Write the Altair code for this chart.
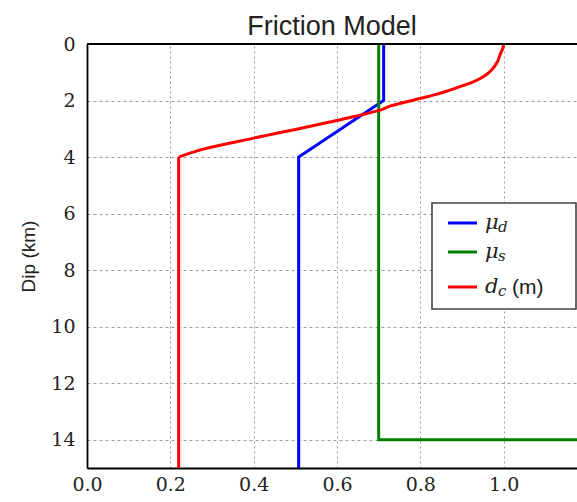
import altair as alt
import pandas as pd

# ---- data ----
mu_d_x = [0.712, 0.712, 0.508, 0.508]
mu_d_y = [0.0, 2.0, 4.0, 15.0]

mu_s_x = [0.70, 0.70, 1.30]
mu_s_y = [0.0, 14.0, 14.0]

dc_x = [1.0, 0.998, 0.991, 0.985, 0.971, 0.951, 0.927, 0.895, 0.863, 0.831, 0.799,
        0.727, 0.703, 0.583, 0.40, 0.279, 0.22, 0.22]
dc_y = [0.0, 0.15, 0.39, 0.63, 0.92, 1.16, 1.34, 1.51, 1.67, 1.81, 1.93,
        2.20, 2.34, 2.76, 3.33, 3.72, 4.0, 15.0]

series_names = ["mu_d", "mu_s", "d_c"]
series_colors = ["#0000ff", "#008000", "#ff0000"]

x_ticks = [0.0, 0.2, 0.4, 0.6, 0.8, 1.0]
y_ticks = [0, 2, 4, 6, 8, 10, 12, 14]

rows = []
for name, xs, ys in zip(series_names, [mu_d_x, mu_s_x, dc_x], [mu_d_y, mu_s_y, dc_y]):
    n = len(xs)
    for i, (xv, yv) in enumerate(zip(xs, ys)):
        part = "curve" if (name == "d_c" and i < n - 1) else "straight"
        if name == "d_c" and i == n - 2:
            rows.append({"series": name, "part": "straight", "order": i, "x": xv, "y": yv})
        rows.append({"series": name, "part": part, "order": i, "x": xv, "y": yv})
df = pd.DataFrame(rows)

W, H = 490, 424
SERIF = "DejaVu Serif"
SANS = "Liberation Sans"

x_enc = alt.X("x:Q", scale=alt.Scale(domain=[0, 1.176], nice=False, zero=False),
              axis=alt.Axis(values=x_ticks, format=".1f", title=None, labelFlush=False,
                            gridDash=[2, 3], labelPadding=7))
y_enc = alt.Y("y:Q", scale=alt.Scale(domain=[0, 15], reverse=True, nice=False, zero=False),
              axis=alt.Axis(values=y_ticks, title="Dip (km)", gridDash=[3, 3], labelFlush=False,
                            labelPadding=12, titlePadding=12))
color_enc = alt.Color("series:N", scale=alt.Scale(domain=series_names, range=series_colors),
                      legend=None)

base = alt.Chart(df).encode(x=x_enc, y=y_enc, color=color_enc, detail="series:N",
                            order="order:Q")
straight = base.mark_line(strokeWidth=3, clip=True).transform_filter(
    alt.datum.part == "straight")
curve = base.mark_line(strokeWidth=3, clip=True, interpolate="catmull-rom").transform_filter(
    alt.datum.part == "curve")

one = pd.DataFrame({"a": [0]})

top_border = alt.Chart(one).mark_rule(color="black", strokeWidth=1.8).encode(
    x=alt.value(0), x2=alt.value(W), y=alt.value(0)
)

# ---- custom legend (mathtext style labels) ----
box = alt.Chart(one).mark_rect(fill="white", stroke="#444", strokeWidth=1.6).encode(
    x=alt.value(345), x2=alt.value(489), y=alt.value(159), y2=alt.value(265)
)

legend_main = ["μ", "μ", "d"]
legend_sub = ["d", "s", "c"]
legend_suffix = ["", "", "(m)"]
legend_y = [179, 208, 243]

legend_layers = [box]
for col, main, sub, suf, ly in zip(series_colors, legend_main, legend_sub, legend_suffix, legend_y):
    legend_layers.append(
        alt.Chart(one).mark_rule(color=col, strokeWidth=3).encode(
            x=alt.value(361), x2=alt.value(390), y=alt.value(ly))
    )
    legend_layers.append(
        alt.Chart(one).mark_text(align="left", baseline="alphabetic", font=SERIF,
                                 fontStyle="italic", fontSize=21, color="#222").encode(
            x=alt.value(398), y=alt.value(ly + 6), text=alt.value(main))
    )
    legend_layers.append(
        alt.Chart(one).mark_text(align="left", baseline="alphabetic", font=SERIF,
                                 fontStyle="italic", fontSize=15, color="#222").encode(
            x=alt.value(411), y=alt.value(ly + 9), text=alt.value(sub))
    )
    if suf:
        legend_layers.append(
            alt.Chart(one).mark_text(align="left", baseline="alphabetic", font=SANS,
                                     fontSize=21, color="#222").encode(
                x=alt.value(425), y=alt.value(ly + 7), text=alt.value(suf))
        )

chart = alt.layer(straight, curve, top_border, *legend_layers).properties(
    width=W, height=H,
    title=alt.TitleParams("Friction Model", anchor="middle", offset=-6),
    autosize=alt.AutoSizeParams(type="none"),
    padding={"left": 87, "top": 44, "right": 0, "bottom": 34},
).configure_view(stroke=None).configure_axis(
    labelFont=SERIF, labelFontSize=19, labelColor="#222", ticks=False,
    titleFont=SANS, titleFontSize=19, titleFontWeight="normal", titleColor="#222",
    grid=True, gridColor="#9a9a9a", gridWidth=1,
    domainColor="black", domainWidth=1.8,
).configure_title(
    font=SANS, fontSize=27, fontWeight="normal", color="#222"
)

chart.save("out.html", embed_options={"renderer": "svg", "actions": False})
